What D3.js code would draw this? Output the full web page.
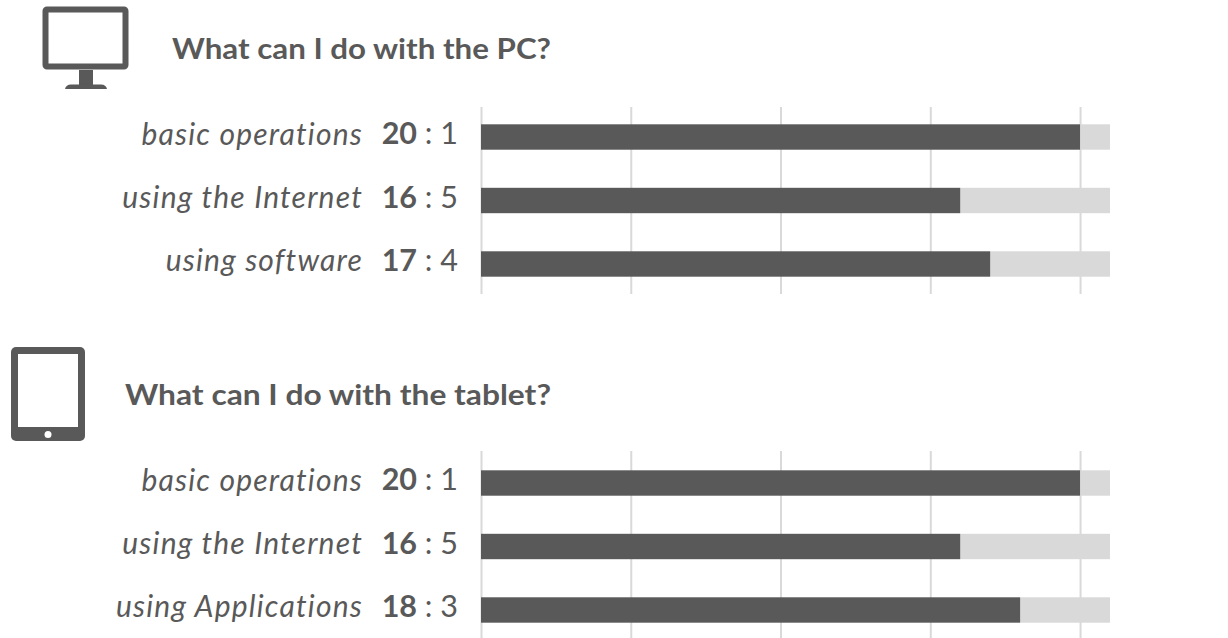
<!DOCTYPE html>
<html><head><meta charset="utf-8">
<script src="https://cdn.jsdelivr.net/npm/d3@7"></script>
<style>
html,body{margin:0;padding:0;background:#fff}
svg{display:block}
text{font-family:Lato,"Open Sans",sans-serif;fill:#595959}
.grid line{stroke:#d9d9d9;stroke-width:2}
.grid path{display:none}
</style></head><body>
<script>
const pcTitle = "What can I do with the PC?";
const pcCategories = ["basic operations","using the Internet","using software"];
const pcYes = [20,16,17];
const pcNo = [1,5,4];
const tabletTitle = "What can I do with the tablet?";
const tabletCategories = ["basic operations","using the Internet","using Applications"];
const tabletYes = [20,16,18];
const tabletNo = [1,5,3];
const xTicks = [0,5,10,15,20];

const svg = d3.select("body").append("svg").attr("width",1228).attr("height",638);
const x = d3.scaleLinear().domain([0,21]).range([481,1110]);

function panel(top, shift, title, titleX, titleY, cats, yes, no){
  const y = d3.scaleBand().domain(cats).range([top+shift, top+shift+187]).paddingInner(0.6).paddingOuter(0.2725);
  const g = svg.append("g");
  g.append("g").attr("class","grid").attr("transform",`translate(0,${top+187})`)
    .call(d3.axisBottom(x).tickValues(xTicks).tickSize(-187).tickFormat(""));
  g.append("text").attr("x",titleX).attr("y",titleY).attr("font-size",28).attr("font-weight",700)
    .attr("textLength",551-titleX).attr("lengthAdjust","spacingAndGlyphs").text(title);
  const rows = g.selectAll(".row").data(cats).enter().append("g").attr("class","row");
  rows.append("rect").attr("x",(d,i)=>x(yes[i])).attr("y",d=>y(d)).attr("height",y.bandwidth())
    .attr("width",(d,i)=>x(yes[i]+no[i])-x(yes[i])).attr("fill","#d9d9d9");
  rows.append("rect").attr("x",x(0)).attr("y",d=>y(d)).attr("height",y.bandwidth())
    .attr("width",(d,i)=>x(yes[i])-x(0)).attr("fill","#595959");
  rows.append("text").attr("x",363).attr("y",d=>y(d)+y.bandwidth()/2+7.5).attr("text-anchor","end")
    .attr("font-size",30).attr("letter-spacing",1.2).attr("font-style","italic").attr("font-weight",400).text(d=>d);
  const lab = rows.append("text").attr("x",458).attr("y",d=>y(d)+y.bandwidth()/2+7).attr("text-anchor","end")
    .attr("font-size",30.5);
  lab.append("tspan").attr("font-weight",700).text((d,i)=>yes[i]);
  lab.append("tspan").text((d,i)=>" : "+no[i]);
}
panel(107, 0, pcTitle, 172, 59, pcCategories, pcYes, pcNo);
panel(451, 2, tabletTitle, 125, 405, tabletCategories, tabletYes, tabletNo);

// device icons
const c = "#595959";
const pc = svg.append("g");
pc.append("rect").attr("x",45.5).attr("y",9.5).attr("width",80).attr("height",57).attr("rx",1.5)
  .attr("fill","#fff").attr("stroke",c).attr("stroke-width",6);
pc.append("rect").attr("x",79).attr("y",70).attr("width",14).attr("height",15).attr("fill",c);
pc.append("path").attr("d","M65 89 Q66 84.5 71 84.5 H101 Q106 84.5 107 89 Z").attr("fill",c);
const tab = svg.append("g");
tab.append("rect").attr("x",11).attr("y",347).attr("width",74).attr("height",94).attr("rx",5).attr("fill",c);
tab.append("rect").attr("x",18).attr("y",354).attr("width",60).attr("height",73).attr("fill","#fff");
tab.append("circle").attr("cx",48).attr("cy",434.5).attr("r",3.5).attr("fill","#fff");
</script>
</body></html>
